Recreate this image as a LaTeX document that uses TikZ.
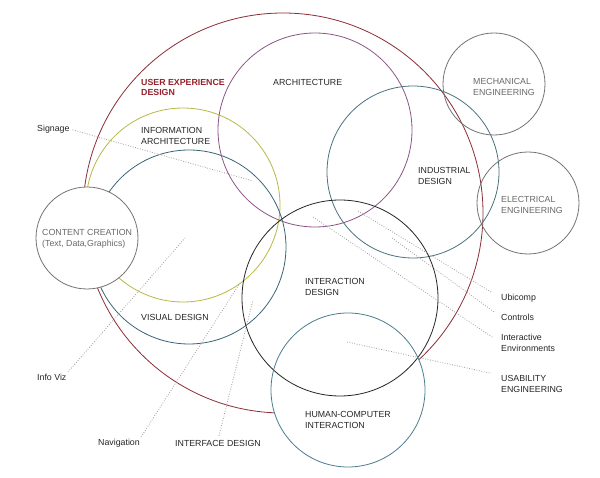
\documentclass[tikz,border=0pt]{standalone}
\usepackage{fontspec}
\setmainfont{Liberation Sans}
\definecolor{uxred}{RGB}{140,45,55}
\definecolor{uxtxt}{RGB}{150,35,45}
\definecolor{archpurple}{RGB}{140,85,135}
\definecolor{iayellow}{RGB}{185,185,70}
\definecolor{vdblue}{RGB}{60,100,120}
\definecolor{idteal}{RGB}{75,115,125}
\definecolor{hciblue}{RGB}{75,125,145}
\definecolor{ringgray}{RGB}{115,115,115}
\definecolor{graytxt}{RGB}{105,105,105}
\begin{document}
\begin{tikzpicture}[x=1pt,y=-1pt,
  lbl/.style={font=\fontsize{8.8}{10.6}\selectfont, inner sep=0pt, anchor=west, align=left, text=black!85},
  glbl/.style={lbl, text=graytxt},
  uxlbl/.style={lbl, text=uxtxt, font=\fontsize{8.8}{10.6}\selectfont\bfseries},
  ring/.style={line width=0.8pt},
  dotline/.style={draw=black!38, line width=0.8pt, dash pattern=on 0.8pt off 1.7pt},
]
\fill[white] (0,0) rectangle (600,478);
\useasboundingbox (0,0) rectangle (600,478);

% centres
\coordinate (cUX) at (283,213);
\coordinate (cIA) at (183,205);
\coordinate (cVD) at (189,247);
\coordinate (cCC) at (87,238);
\coordinate (cAR) at (315,130);
\coordinate (cIN) at (413,172);
\coordinate (cME) at (494,84);
\coordinate (cEE) at (528,203);
\coordinate (cIX) at (340,298);
\coordinate (cHC) at (348,390);

% circles partly hidden
\draw[ring, draw=uxred] (cUX) circle[radius=200];
\draw[ring, draw=iayellow] (cIA) circle[radius=97];
\draw[ring, draw=vdblue] (cVD) circle[radius=97];
\fill[white] (cCC) circle[radius=51];
\fill[white] (cHC) circle[radius=77];

% full circles
\draw[ring, draw=archpurple] (cAR) circle[radius=97];
\draw[ring, draw=idteal] (cIN) circle[radius=86];
\draw[ring, draw=ringgray] (cME) circle[radius=51];
\draw[ring, draw=ringgray] (cEE) circle[radius=51];
\draw[ring, draw=black!85] (cIX) circle[radius=98];
\draw[ring, draw=hciblue] (cHC) circle[radius=77];
\draw[ring, draw=ringgray] (cCC) circle[radius=51];

% labels
\node[uxlbl] (ux) at (141,87.5) {USER EXPERIENCE\\DESIGN};
\node[lbl] (arch) at (273,82) {ARCHITECTURE};
\node[lbl] (ia) at (141,136) {INFORMATION\\ARCHITECTURE};
\node[lbl] (signage) at (37,129) {Signage};
\node[glbl] (mech) at (473,87) {MECHANICAL\\ENGINEERING};
\node[lbl] (indus) at (418,176) {INDUSTRIAL\\DESIGN};
\node[glbl] (elec) at (501,205) {ELECTRICAL\\ENGINEERING};
\node[glbl] (cc) at (42,239) {CONTENT CREATION\\(Text, Data,Graphics)};
\node[lbl] (vd) at (141,317) {VISUAL DESIGN};
\node[lbl] (infoviz) at (37,377) {Info Viz};
\node[lbl] (nav) at (98,443) {Navigation};
\node[lbl] (iface) at (175,443) {INTERFACE DESIGN};
\node[lbl] (ixd) at (305,287) {INTERACTION\\DESIGN};
\node[lbl] (ubi) at (501,298) {Ubicomp};
\node[lbl] (ctrl) at (501,317) {Controls};
\node[lbl] (ienv) at (501,343) {Interactive\\Environments};
\node[lbl] (usab) at (501,384) {USABILITY\\ENGINEERING};
\node[lbl] (hci) at (305,420) {HUMAN-COMPUTER\\INTERACTION};

% dotted connectors
\coordinate (sigIn) at (253,181);
\coordinate (vizIn) at (185,238);
\coordinate (navIn) at (240,283);
\coordinate (ifIn) at (253,300);
\coordinate (ubiIn) at (358,211);
\coordinate (ctrlIn) at (392,238);
\coordinate (ienvIn) at (313,217);
\coordinate (usabIn) at (347,342);

\draw[dotline, shorten <=3pt] (signage.east) -- (sigIn);
\draw[dotline, shorten <=2pt] (infoviz.north east) -- (vizIn);
\draw[dotline, shorten <=2pt] (nav.north east) -- (navIn);
\draw[dotline, shorten <=4pt] (iface.north) -- (ifIn);
\draw[dotline, shorten >=10pt] (ubiIn) -- (ubi.west);
\draw[dotline, shorten >=8pt] (ctrlIn) -- (ctrl.west);
\draw[dotline, shorten >=9pt] (ienvIn) -- (ienv.west);
\draw[dotline, shorten >=10pt] (usabIn) -- (usab.north west);
\end{tikzpicture}
\end{document}
